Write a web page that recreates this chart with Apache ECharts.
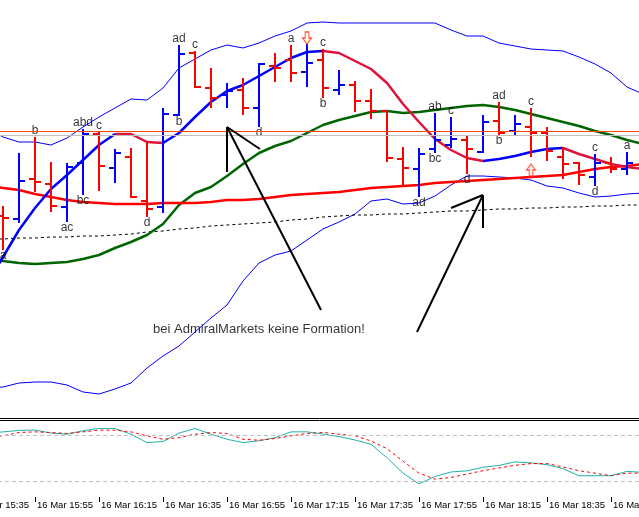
<!DOCTYPE html>
<html><head><meta charset="utf-8">
<script src="https://cdn.jsdelivr.net/npm/echarts@6/dist/echarts.min.js"></script>
<style>html,body{margin:0;padding:0;background:#fff}#c{width:639px;height:517px}</style>
</head><body><div id="c"></div>
<script>
// 5-minute bars; category slots start two bars before the first visible bar
const times = ["16 Mar 15:35","16 Mar 15:40","16 Mar 15:45","16 Mar 15:50","16 Mar 15:55","16 Mar 16:00","16 Mar 16:05","16 Mar 16:10","16 Mar 16:15","16 Mar 16:20","16 Mar 16:25","16 Mar 16:30","16 Mar 16:35","16 Mar 16:40","16 Mar 16:45","16 Mar 16:50","16 Mar 16:55","16 Mar 17:00","16 Mar 17:05","16 Mar 17:10","16 Mar 17:15","16 Mar 17:20","16 Mar 17:25","16 Mar 17:30","16 Mar 17:35","16 Mar 17:40","16 Mar 17:45","16 Mar 17:50","16 Mar 17:55","16 Mar 18:00","16 Mar 18:05","16 Mar 18:10","16 Mar 18:15","16 Mar 18:20","16 Mar 18:25","16 Mar 18:30","16 Mar 18:35","16 Mar 18:40","16 Mar 18:45","16 Mar 18:50","16 Mar 18:55","16 Mar 19:00","16 Mar 19:05"];
const firstBarSlot = 2;

// OHLC, bars 15:45 .. 19:00
const barOpen  = [5784,5781,5821,5816,5793,5837,5866,5832,5843,5799,5793,5885,5947,5912,5905,5910,5892,5934,5940,5928,5940,5910,5915,5899,5889,5841,5831,5851,5855,5860,5848,5879,5869,5873,5867,5843,5837,5823,5837,5831];
const barHigh  = [5794,5847,5863,5838,5837,5871,5868,5851,5852,5858,5892,5955,5949,5932,5917,5922,5937,5947,5955,5956,5951,5930,5919,5911,5890,5853,5852,5887,5883,5865,5885,5898,5885,5892,5873,5853,5838,5846,5843,5848];
const barLow   = [5750,5777,5808,5788,5778,5805,5809,5817,5802,5783,5787,5884,5912,5892,5892,5885,5873,5918,5918,5913,5902,5905,5888,5881,5838,5813,5803,5847,5852,5826,5847,5865,5865,5843,5839,5821,5815,5814,5827,5825];
const barClose = [5782,5819,5818,5794,5833,5866,5834,5847,5803,5791,5886,5946,5913,5902,5909,5892,5936,5932,5927,5937,5912,5915,5899,5889,5842,5832,5846,5860,5861,5851,5878,5867,5876,5867,5849,5836,5825,5837,5831,5837];

// indicator lines, one bar before the first bar to one bar after the last
const fastMA    = [5716,5743,5770,5792,5811,5825,5840,5855,5866,5866,5858,5857,5867,5883,5898,5909,5915,5924,5933,5942,5948,5949,5947,5939,5931,5917,5896,5878,5861,5850,5842,5839,5841,5844,5848,5851,5852,5846,5841,5836,5833,5831];
const slowMA    = [5815,5812,5810,5806,5803,5800,5798,5797,5796,5796,5796,5797,5797,5797,5798,5800,5800,5801,5803,5805,5806,5807,5808,5810,5812,5813,5814,5815,5817,5818,5819,5820,5821,5822,5823,5824,5825,5828,5831,5833,5834,5836];
const trendMA   = [5739,5739,5737,5736,5737,5738,5741,5745,5752,5758,5765,5776,5795,5807,5813,5824,5836,5847,5854,5859,5867,5875,5880,5884,5888,5889,5887,5888,5890,5892,5894,5895,5893,5890,5886,5882,5878,5874,5869,5865,5860,5856];
const baseLine  = [5761,5761,5762,5762,5763,5763,5764,5764,5765,5766,5768,5769,5771,5772,5774,5775,5776,5777,5778,5780,5781,5783,5784,5785,5785,5786,5786,5787,5788,5789,5789,5790,5791,5791,5792,5792,5793,5793,5794,5794,5795,5795];
const bandUpper = [5872,5863,5858,5858,5855,5862,5873,5883,5892,5901,5900,5912,5932,5941,5950,5955,5952,5957,5964,5969,5977,5978,5977,5977,5977,5977,5977,5977,5977,5970,5964,5964,5957,5954,5951,5950,5949,5943,5936,5927,5913,5906];
const bandLower = [5612,5613,5617,5618,5618,5615,5608,5606,5611,5617,5632,5644,5654,5668,5682,5695,5719,5737,5745,5749,5760,5771,5778,5786,5799,5801,5796,5797,5804,5815,5824,5824,5823,5822,5820,5814,5812,5807,5803,5804,5806,5807];
const priceLevels = [5869, 5865];

// stochastic sub-window
const stochMain   = [83,84.5,86.5,87,83,81.6,86,89,89,81.6,70.6,72,83,89,81.6,75,70.6,73,77,84.6,84.6,81.6,78.5,74,68.4,51,31,17,26.7,32.5,34,38.6,41,45.6,44.3,42,36.8,27.6,27.6,27.6,33.3,32];
const stochSignal = [78,79.4,83.8,84.6,83.8,82.5,84.6,86.8,86.8,84.6,79.4,75,77,81.6,83.8,82.5,75,73.7,75.9,79.4,82.5,83.8,81.6,79.4,72.8,62.7,46.5,31,23.2,25.4,29.8,34.2,37.7,41.2,43.4,43.4,39,34.2,31,27.6,31,31];
const stochLevels = [20, 80];

// pattern letters (bar index, text, side)
const patternText = ['a','b','ac','abd','bc','c','d','ad','b','c','d','a','c','b','ad','ab','bc','c','d','ad','b','c','c','d','a'];
const patternBar  = [0,2,4,5,5,6,9,11,11,12,16,18,20,20,26,27,27,28,29,31,31,33,37,37,39];
const patternSide = ['low','high','low','high','low','high','low','high','low','high','low','high','high','low','low','high','low','high','low','high','low','high','high','low','high'];

// arrow objects
const arrowBar   = [19, 33];
const arrowPrice = [5962, 5830];
const arrowDir   = ['down', 'up'];

// hand-drawn lines: [bar1, price1, bar2, price2]
const drawnLines = [
  [14,5873,19.875,5690],[14,5873,16.06,5851],[14,5873,14,5828],
  [30,5805,25.875,5668],[30,5805,28,5792],[30,5805,30,5772]
];
const noteText = 'bei AdmiralMarkets keine Formation!';
const noteAnchor = [9.375, 5671];

const pad = arr => [null].concat(arr);
const fm = pad(fastMA);
const rising = (a,b) => a != null && b != null && b > a;
const falling = (a,b) => a != null && b != null && b <= a;
const fmUp = fm.map((v,i)=> (rising(fm[i-1],v) || rising(v,fm[i+1])) ? v : null);
const fmDn = fm.map((v,i)=> (falling(fm[i-1],v) || falling(v,fm[i+1])) ? v : null);

const barData = barOpen.map((o,k)=>[k+firstBarSlot,o,barHigh[k],barLow[k],barClose[k]]);
const labelData = patternText.map((t,j)=>{
  const k = patternBar[j], hi = patternSide[j]==='high';
  return {name:t, value:[k+firstBarSlot, hi ? barHigh[k] : barLow[k]], label:{position: hi ? 'top' : 'bottom'}};
});
const downPath = 'path://M3,0L7,0L7,6L10,6L5,12L0,6L3,6Z';
const upPath = 'path://M5,0L10,6L7,6L7,12L3,12L3,6L0,6Z';
const arrowData = arrowBar.map((k,j)=>({
  value:[k+firstBarSlot, arrowPrice[j]],
  symbol: arrowDir[j]==='down' ? downPath : upPath,
  itemStyle: arrowDir[j]==='down' ? {color:'#ffffff', borderColor:'#ff3000', borderWidth:1.2} : {color:'#fff0e6', borderColor:'#ff3b1f', borderWidth:1.2}
}));
const drawnData = drawnLines.map(s=>[s[0]+firstBarSlot,s[1],s[2]+firstBarSlot,s[3]]);

const FONT = 'Liberation Sans, Arial, sans-serif';
const chart = echarts.init(document.getElementById('c'));
const lineBase = {type:'line', symbol:'none', smooth:false, xAxisIndex:0, yAxisIndex:0, silent:true, clip:false};
chart.setOption({
  animation:false,
  backgroundColor:'#ffffff',
  grid:[
    {left:-37, top:0, width:688, height:418, outerBoundsMode:'none', containLabel:false},
    {left:-37, top:420, width:688, height:77, outerBoundsMode:'none', containLabel:false}
  ],
  xAxis:[
    {type:'category', gridIndex:0, data:times, boundaryGap:true,
     axisLine:{show:true, lineStyle:{color:'#000', width:1}}, axisTick:{show:false}, axisLabel:{show:false}, splitLine:{show:false}},
    {type:'category', gridIndex:1, data:times, boundaryGap:true, position:'bottom',
     axisLine:{show:false},
     axisTick:{show:true, alignWithLabel:true, interval:(i)=>i%4===0, length:5, lineStyle:{color:'#000'}},
     axisLabel:{show:true, interval:(i)=>i%4===0, align:'left', margin:3, fontSize:9.5, color:'#000', fontFamily:FONT,
       padding:[0,0,0,2], hideOverlap:false, showMinLabel:true, showMaxLabel:true},
     splitLine:{show:false}},
    {type:'category', gridIndex:1, data:times, boundaryGap:true, position:'top',
     axisLine:{show:true, lineStyle:{color:'#000', width:1}}, axisTick:{show:false}, axisLabel:{show:false}},
    {type:'value', gridIndex:0, min:-0.5, max:42.5, position:'top', show:false}
  ],
  yAxis:[
    {type:'value', gridIndex:0, min:5582, max:6000, show:false},
    {type:'value', gridIndex:1, min:0, max:100, show:false}
  ],
  series:[
    Object.assign({}, lineBase, {name:'BB upper', data:pad(bandUpper), lineStyle:{color:'#0000ff', width:1}, z:1}),
    Object.assign({}, lineBase, {name:'BB lower', data:pad(bandLower), lineStyle:{color:'#0000ff', width:1}, z:1,
      markLine:{silent:true, symbol:'none', label:{show:false}, animation:false,
        data:[{yAxis:priceLevels[0], lineStyle:{color:'#ff4500', width:1, type:'solid'}},
              {yAxis:priceLevels[1], lineStyle:{color:'#c0c0c0', width:1, type:'solid'}}]}}),
    Object.assign({}, lineBase, {name:'base', data:pad(baseLine), lineStyle:{color:'#000', width:1, type:[3,3]}, z:1}),
    Object.assign({}, lineBase, {name:'trend MA', data:pad(trendMA), lineStyle:{color:'#006400', width:2.5}, z:2}),
    Object.assign({}, lineBase, {name:'slow MA', data:pad(slowMA), lineStyle:{color:'#ff0000', width:2.5}, z:2}),
    Object.assign({}, lineBase, {name:'fast MA down', data:fmDn, lineStyle:{color:'#dc143c', width:2.5}, z:2}),
    Object.assign({}, lineBase, {name:'fast MA up', data:fmUp, lineStyle:{color:'#0000ff', width:2.5}, z:2}),
    {type:'custom', name:'bars', xAxisIndex:0, yAxisIndex:0, data:barData, z:3, silent:true,
     encode:{x:0, y:[1,2,3,4]},
     renderItem:(p, api)=>{
       const i = api.value(0);
       const o = api.coord([i, api.value(1)]), h = api.coord([i, api.value(2)]);
       const l = api.coord([i, api.value(3)]), c = api.coord([i, api.value(4)]);
       const color = api.value(4) > api.value(1) ? '#0000ff' : '#ff0000';
       const x = Math.round(o[0]);
       const st = {stroke:color, lineWidth:2};
       return {type:'group', children:[
         {type:'line', shape:{x1:x, y1:h[1], x2:x, y2:l[1]}, style:st},
         {type:'line', shape:{x1:x-6, y1:o[1], x2:x, y2:o[1]}, style:st},
         {type:'line', shape:{x1:x, y1:c[1], x2:x+6, y2:c[1]}, style:st}
       ]};
     }},
    {type:'scatter', name:'pattern', xAxisIndex:0, yAxisIndex:0, data:labelData, symbolSize:0.1,
     itemStyle:{color:'rgba(0,0,0,0)'}, silent:true, z:4,
     label:{show:true, formatter:(p)=>p.name, distance:0, fontSize:12, lineHeight:12, color:'#000', fontFamily:FONT}},
    {type:'scatter', name:'arrows', xAxisIndex:0, yAxisIndex:0, data:arrowData, symbolSize:[9,12], silent:true, z:4},
    {type:'custom', name:'drawn', xAxisIndex:3, yAxisIndex:0, data:drawnData, z:5, silent:true,
     encode:{x:[0,2], y:[1,3]},
     renderItem:(p, api)=>{
       const a = api.coord([api.value(0), api.value(1)]);
       const b = api.coord([api.value(2), api.value(3)]);
       return {type:'line', shape:{x1:a[0], y1:a[1], x2:b[0], y2:b[1]}, style:{stroke:'#000', lineWidth:2}};
     }},
    {type:'scatter', name:'note', xAxisIndex:3, yAxisIndex:0, data:[[noteAnchor[0]+firstBarSlot, noteAnchor[1]]], symbolSize:0.1,
     itemStyle:{color:'rgba(0,0,0,0)'}, silent:true, z:5,
     label:{show:true, formatter:noteText, position:'right', distance:0, fontSize:13, color:'#000', fontFamily:FONT}},
    {type:'line', name:'stoch main', xAxisIndex:1, yAxisIndex:1, data:pad(stochMain), symbol:'none', silent:true, clip:false,
     lineStyle:{color:'#20b2aa', width:1},
     markLine:{silent:true, symbol:'none', label:{show:false}, animation:false,
       lineStyle:{color:'#c0c0c0', width:1, type:[4,3]},
       data:stochLevels.map(v=>({yAxis:v}))}},
    {type:'line', name:'stoch signal', xAxisIndex:1, yAxisIndex:1, data:pad(stochSignal), symbol:'none', silent:true, clip:false,
     lineStyle:{color:'#ff0000', width:1, type:[3,3]}}
  ]
});
</script>
</body></html>
